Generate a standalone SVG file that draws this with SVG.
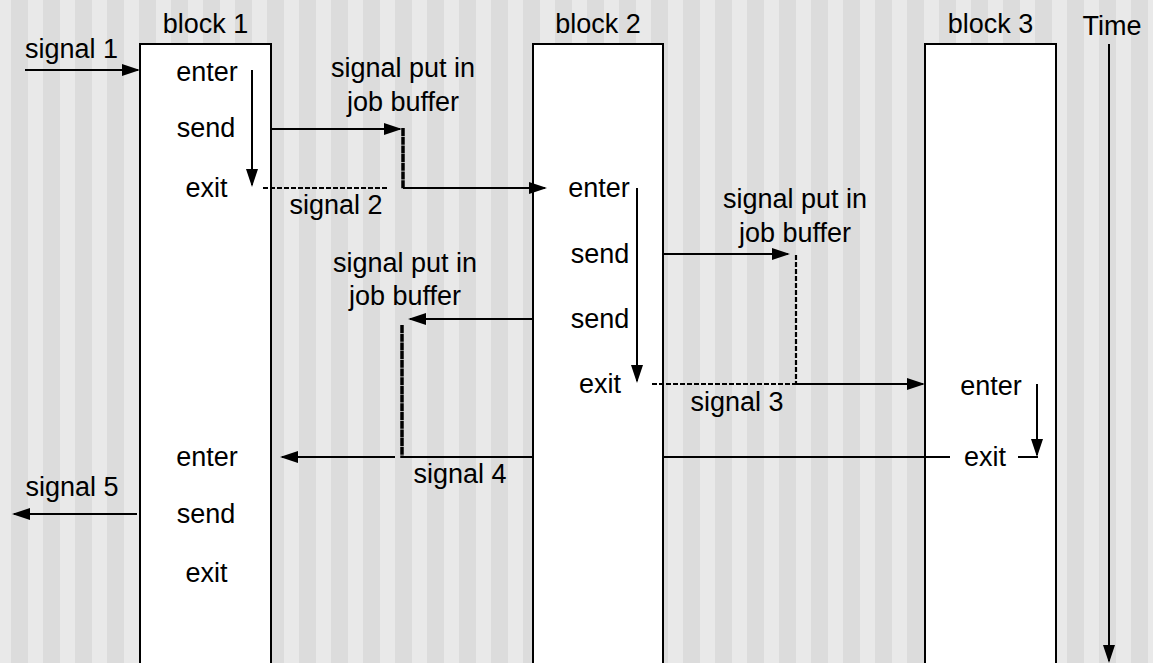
<svg xmlns="http://www.w3.org/2000/svg" width="1153" height="663" viewBox="0 0 1153 663">
<defs>
<pattern id="bg" x="11" y="0" width="32" height="663" patternUnits="userSpaceOnUse">
<rect width="32" height="663" fill="#e9e9e9"/>
<rect width="17" height="663" fill="#dcdcdc"/>
</pattern>
<marker id="ah" viewBox="0 0 18 12" refX="16" refY="6" markerWidth="18" markerHeight="12" markerUnits="userSpaceOnUse" orient="auto">
<path d="M0,0 L18,6 L0,12 z" fill="#000"/>
</marker>
</defs>
<style>
text{font-family:"Liberation Sans",Arial,sans-serif;font-size:27px;fill:#000;text-anchor:middle}
.blk{fill:#fff;stroke:#000;stroke-width:2}
.ln{stroke:#000;stroke-width:2;fill:none}
.arr{marker-end:url(#ah)}
.dash{stroke-width:2.2;stroke-dasharray:5 2}
.thick{stroke-width:3.5;stroke-dasharray:8 0.7}
</style>
<rect width="1153" height="663" fill="url(#bg)"/>

<g id="block1">
<rect class="blk" x="140" y="44" width="131" height="640"/>
<text x="205.5" y="33">block 1</text>
<text x="207" y="81">enter</text>
<text x="206" y="137">send</text>
<text x="206.5" y="197">exit</text>
<text x="207" y="466">enter</text>
<text x="206" y="523">send</text>
<text x="206.5" y="582">exit</text>
</g>

<g id="block2">
<rect class="blk" x="533" y="44" width="130" height="640"/>
<text x="598" y="33">block 2</text>
<text x="599" y="197">enter</text>
<text x="600" y="263">send</text>
<text x="600" y="328">send</text>
<text x="600" y="393">exit</text>
</g>

<g id="block3">
<rect class="blk" x="925" y="44" width="131" height="640"/>
<text x="990.5" y="33">block 3</text>
<text x="991" y="395">enter</text>
<text x="985" y="466">exit</text>
</g>

<g id="time">
<text x="1112" y="35">Time</text>
<line class="ln arr" x1="1109" y1="44" x2="1109" y2="661"/>
</g>

<g id="connectors">
<line class="ln arr" x1="25" y1="70" x2="138" y2="70"/>
<line class="ln arr" x1="252" y1="70" x2="252" y2="185"/>
<line class="ln arr" x1="272" y1="129" x2="400" y2="129"/>
<line class="ln thick" x1="403" y1="128" x2="403" y2="189"/>
<line class="ln arr" x1="403" y1="188" x2="545" y2="188"/>
<line class="ln dash" x1="263" y1="188" x2="388" y2="188"/>
<line class="ln arr" x1="637" y1="188" x2="637" y2="381"/>
<line class="ln arr" x1="663" y1="254" x2="788" y2="254"/>
<line class="ln dash" x1="796" y1="255" x2="796" y2="384"/>
<line class="ln dash" x1="652" y1="384" x2="796" y2="384"/>
<line class="ln arr" x1="796" y1="384" x2="923" y2="384"/>
<line class="ln arr" x1="1037" y1="384" x2="1037" y2="455"/>
<line class="ln" x1="1018" y1="457" x2="1038" y2="457"/>
<line class="ln" x1="663" y1="457" x2="950" y2="457"/>
<line class="ln arr" x1="533" y1="319" x2="410" y2="319"/>
<line class="ln thick" x1="402" y1="325" x2="402" y2="458"/>
<line class="ln" x1="402" y1="457" x2="533" y2="457"/>
<line class="ln arr" x1="395" y1="457" x2="282" y2="457"/>
<line class="ln arr" x1="137" y1="514" x2="14" y2="514"/>
</g>

<g id="labels">
<text x="71.5" y="58">signal 1</text>
<text x="336" y="214">signal 2</text>
<text x="737" y="411">signal 3</text>
<text x="460" y="483">signal 4</text>
<text x="72" y="496">signal 5</text>
<text x="403" y="77">signal put in</text>
<text x="403" y="111">job buffer</text>
<text x="405" y="272">signal put in</text>
<text x="405" y="305">job buffer</text>
<text x="795" y="208">signal put in</text>
<text x="795" y="242">job buffer</text>
</g>
</svg>
